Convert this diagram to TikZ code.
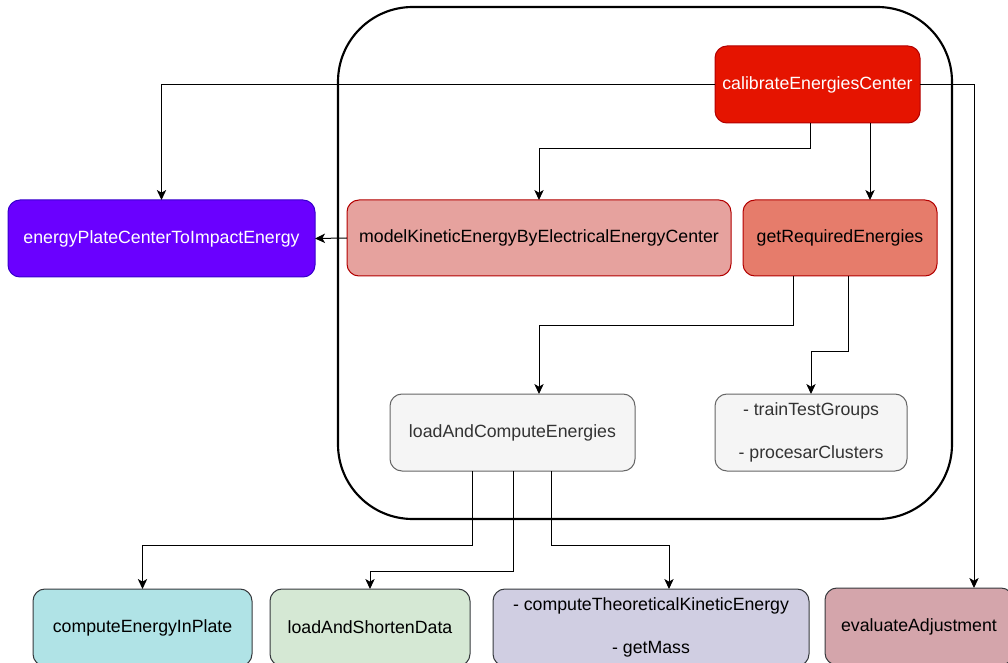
\documentclass[tikz,border=0pt]{standalone}
\usepackage{fontspec}
\setmainfont{Liberation Sans}
\usetikzlibrary{arrows.meta}
\definecolor{calfill}{HTML}{E51400}
\definecolor{calline}{HTML}{B20000}
\definecolor{epcfill}{HTML}{6A00FF}
\definecolor{epcline}{HTML}{3700CC}
\definecolor{modelfill}{HTML}{E6A29E}
\definecolor{reqfill}{HTML}{E67C6B}
\definecolor{grayfill}{HTML}{F5F5F5}
\definecolor{grayline}{HTML}{666666}
\definecolor{graytext}{HTML}{333333}
\definecolor{darkline}{HTML}{36393D}
\definecolor{cyanfill}{HTML}{B0E3E6}
\definecolor{greenfill}{HTML}{D5E8D4}
\definecolor{lilacfill}{HTML}{D0CEE2}
\definecolor{rosefill}{HTML}{D4A5AB}
\begin{document}
\begin{tikzpicture}[x=0.75pt,y=-0.75pt,
  box/.style={draw, rounded corners=9pt, line width=0.75pt, align=center,
    inner sep=0pt, outer sep=0pt, minimum height=57.75pt,
    font=\fontsize{13.3}{32.25}\selectfont},
  redbox/.style={box, draw=calline},
  graybox/.style={box, fill=grayfill, draw=grayline, text=graytext},
  leafbox/.style={box, draw=darkline, text=black},
  arr/.style={draw=black, line width=0.75pt,
    -{Stealth[length=7.5pt,width=7pt,inset=2pt]}}]
\useasboundingbox (0,0) rectangle (1008,663);
\clip (0,0) rectangle (1008,663);

% group frame
\node[draw, line width=1.6pt, rounded corners=56pt, inner sep=0pt, outer sep=0pt,
  minimum width=460.5pt, minimum height=384pt] (grp) at (645,263) {};

% nodes
\node[redbox, fill=calfill, text=white, minimum width=153.75pt] (cal) at (817.5,84.5) {calibrateEnergiesCenter};
\node[box, fill=epcfill, draw=epcline, text=white, minimum width=230.25pt] (epc) at (161.5,238.5) {energyPlateCenterToImpactEnergy};
\node[redbox, fill=modelfill, minimum width=288pt, minimum height=57pt] (model) at (539,238) {modelKineticEnergyByElectricalEnergyCenter};
\node[redbox, fill=reqfill, minimum width=145.5pt, minimum height=57pt] (req) at (840,238) {getRequiredEnergies};
\node[graybox, minimum width=183.75pt] (lace) at (512.5,432.5) {loadAndComputeEnergies};
\node[graybox, minimum width=144pt] (ttg) at (811,432.5) {- trainTestGroups\\- procesarClusters};
\node[leafbox, fill=cyanfill, minimum width=164.25pt] (ceip) at (142.5,627.5) {computeEnergyInPlate};
\node[leafbox, fill=greenfill, minimum width=150pt] (lasd) at (370,627.5) {loadAndShortenData};
\node[leafbox, fill=lilacfill, minimum width=237pt] (ctke) at (651,627.5) {- computeTheoreticalKineticEnergy\\- getMass};
\node[leafbox, fill=rosefill, minimum width=141pt] (eva) at (919,626.5) {evaluateAdjustment};

% connectors
\draw[arr] (cal.west) -| (epc.north);
\draw[arr] (cal.east) -| (eva.north -| 974,0);
\draw[arr] (cal.south -| 810,0) -- (810,149) -| (model.north);
\draw[arr] (cal.south -| 870,0) -- (req.north -| 870,0);
\draw[arr] (model.west) -- (epc.east);
\draw[arr] (req.south -| 793,0) -- (793,326) -| (lace.north -| 539,0);
\draw[arr] (req.south -| 848,0) -- (848,352) -| (ttg.north);
\draw[arr] (lace.south -| 472,0) -- (472,545) -| (ceip.north);
\draw[arr] (lace.south -| 513,0) -- (513,571) -| (lasd.north);
\draw[arr] (lace.south -| 551,0) -- (551,545) -| (ctke.north -| 669,0);
\end{tikzpicture}
\end{document}
